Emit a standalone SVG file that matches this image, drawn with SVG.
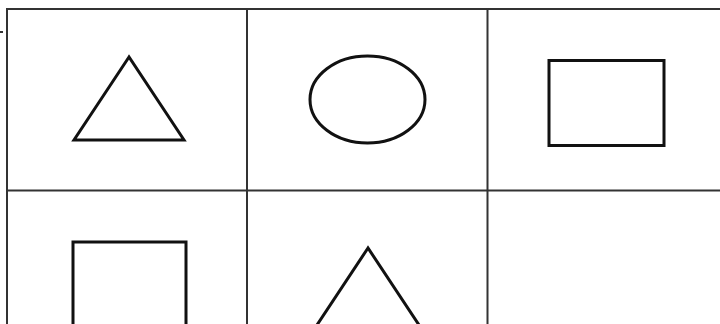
<svg xmlns="http://www.w3.org/2000/svg" width="720" height="324" viewBox="0 0 720 324">
<style>
.grid{stroke:#333;stroke-width:2;fill:none}
.shape{stroke:#111;stroke-width:3;fill:none;stroke-linejoin:miter}
</style>
<rect width="720" height="324" fill="#fff"/>
<g id="grid">
<line class="grid" x1="7" y1="9" x2="720" y2="9"/>
<line class="grid" x1="7" y1="190.5" x2="720" y2="190.5"/>
<line class="grid" x1="7" y1="8" x2="7" y2="324"/>
<line class="grid" x1="247" y1="8" x2="247" y2="324"/>
<line class="grid" x1="487.5" y1="8" x2="487.5" y2="324"/>
<line class="grid" x1="0" y1="32" x2="3" y2="32"/>
</g>
<g id="triangle1"><polygon class="shape" points="129,57 74,140 184,140"/></g>
<g id="ellipse1"><ellipse class="shape" cx="367.5" cy="99.5" rx="57.5" ry="43.5"/></g>
<g id="rect1"><rect class="shape" x="549" y="60.5" width="115" height="85"/></g>
<g id="square2"><rect class="shape" x="73" y="242" width="113" height="110"/></g>
<g id="triangle2"><polygon class="shape" points="368,248 313,331 423,331"/></g>
</svg>
